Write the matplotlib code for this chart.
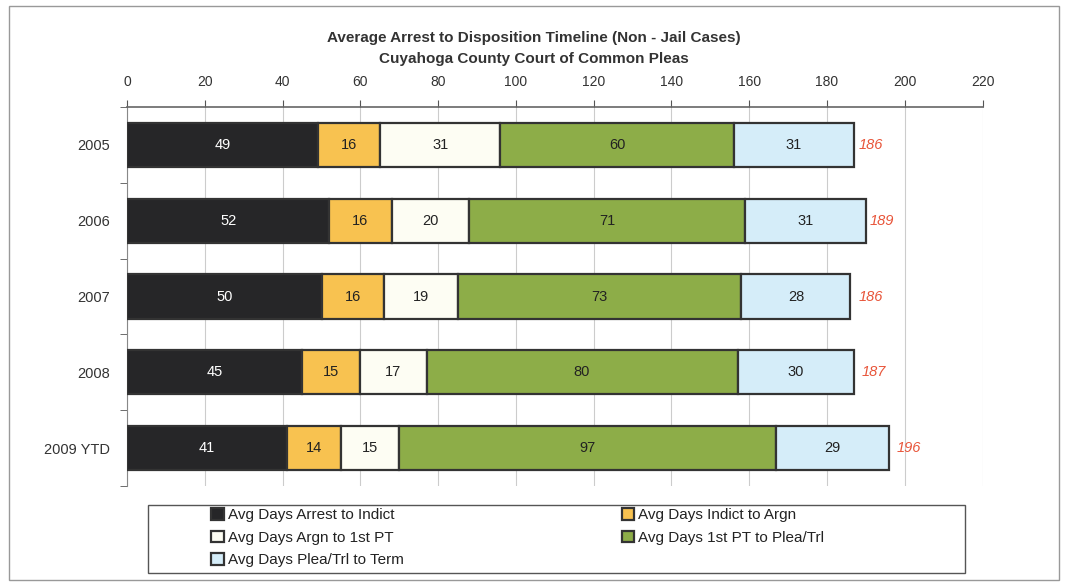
import matplotlib.pyplot as plt
import numpy as np
from matplotlib.patches import Rectangle

plt.rcParams['font.family'] = ['Liberation Sans', 'DejaVu Sans']

years = ["2005", "2006", "2007", "2008", "2009 YTD"]
arrest_indict = [49, 52, 50, 45, 41]
indict_argn = [16, 16, 16, 15, 14]
argn_pt = [31, 20, 19, 17, 15]
pt_plea = [60, 71, 73, 80, 97]
plea_term = [31, 31, 28, 30, 29]
totals = [186, 189, 186, 187, 196]

series = [arrest_indict, indict_argn, argn_pt, pt_plea, plea_term]
names = ["Avg Days Arrest to Indict", "Avg Days Indict to Argn",
         "Avg Days Argn to 1st PT", "Avg Days 1st PT to Plea/Trl",
         "Avg Days Plea/Trl to Term"]
colors = ["#262628", "#F8C250", "#FDFDF3", "#8DAD48", "#D5EDF9"]
text_colors = ["white", "#222222", "#222222", "#222222", "#222222"]

fig = plt.figure(figsize=(10.68, 5.86), dpi=100)
fig.patches.append(Rectangle((0.008, 0.01), 0.984, 0.98, transform=fig.transFigure,
                             fill=False, edgecolor="#999999", lw=1))
ax = fig.add_axes([0.119, 0.17, 0.801, 0.648])

y = np.arange(len(years))
left = np.zeros(len(years))
handles = []
for vals, name, col, tc in zip(series, names, colors, text_colors):
    b = ax.barh(y, vals, left=left, height=0.58, color=col, edgecolor="#333333",
                lw=1.6, label=name, zorder=3)
    handles.append(b)
    for yi, l, v in zip(y, left, vals):
        ax.text(l + v / 2, yi, str(v), ha="center", va="center", color=tc,
                fontsize=10.5, zorder=4)
    left += np.array(vals)

for yi, t in zip(y, totals):
    ax.text(t + 2, yi, str(t), ha="left", va="center", color="#E8553A",
            fontsize=10.5, style="italic", zorder=4)

ax.set_xlim(0, 220)
ax.set_ylim(len(years) - 0.5, -0.5)
ax.set_xticks(np.arange(0, 221, 20))
ax.xaxis.tick_top()
ax.tick_params(axis="x", direction="out", length=5, color="#555555",
               labelsize=10, labelcolor="#333333", pad=8)
ax.set_yticks(y)
ax.set_yticklabels(years)
ax.set_yticks(np.arange(-0.5, len(years), 1), minor=True)
ax.tick_params(axis="y", which="major", length=0, labelsize=10.5,
               labelcolor="#333333", pad=12)
ax.tick_params(axis="y", which="minor", direction="out", length=5, color="#555555")
ax.grid(axis="x", color="#cccccc", lw=0.8, zorder=0)
for s in ["right", "bottom"]:
    ax.spines[s].set_visible(False)
ax.spines["top"].set_color("#666666")
ax.spines["left"].set_color("#888888")
ax.spines["top"].set_linewidth(1.2)

fig.text(0.5, 0.935, "Average Arrest to Disposition Timeline (Non - Jail Cases)",
         ha="center", va="center", fontsize=11, fontweight="bold", color="#333333")
fig.text(0.5, 0.9, "Cuyahoga County Court of Common Pleas",
         ha="center", va="center", fontsize=11, fontweight="bold", color="#333333")

# legend frame drawn separately, two legends for the two columns
fig.patches.append(Rectangle((0.139, 0.022), 0.765, 0.116, transform=fig.transFigure,
                             fill=False, edgecolor="#555555", lw=1))
leg_kw = dict(loc="upper left", frameon=False, fontsize=11, handlelength=0.8,
              handleheight=0.8, handletextpad=0.3, labelspacing=0.55,
              borderpad=0.0, borderaxespad=0)
leg1 = fig.legend([handles[i] for i in [0, 2, 4]], [names[i] for i in [0, 2, 4]],
                  bbox_to_anchor=(0.198, 0.133), **leg_kw)
leg2 = fig.legend([handles[i] for i in [1, 3]], [names[i] for i in [1, 3]],
                  bbox_to_anchor=(0.582, 0.133), **leg_kw)
for leg in (leg1, leg2):
    for t in leg.get_texts():
        t.set_color("#222222")

fig.savefig("out.png", dpi=100)
